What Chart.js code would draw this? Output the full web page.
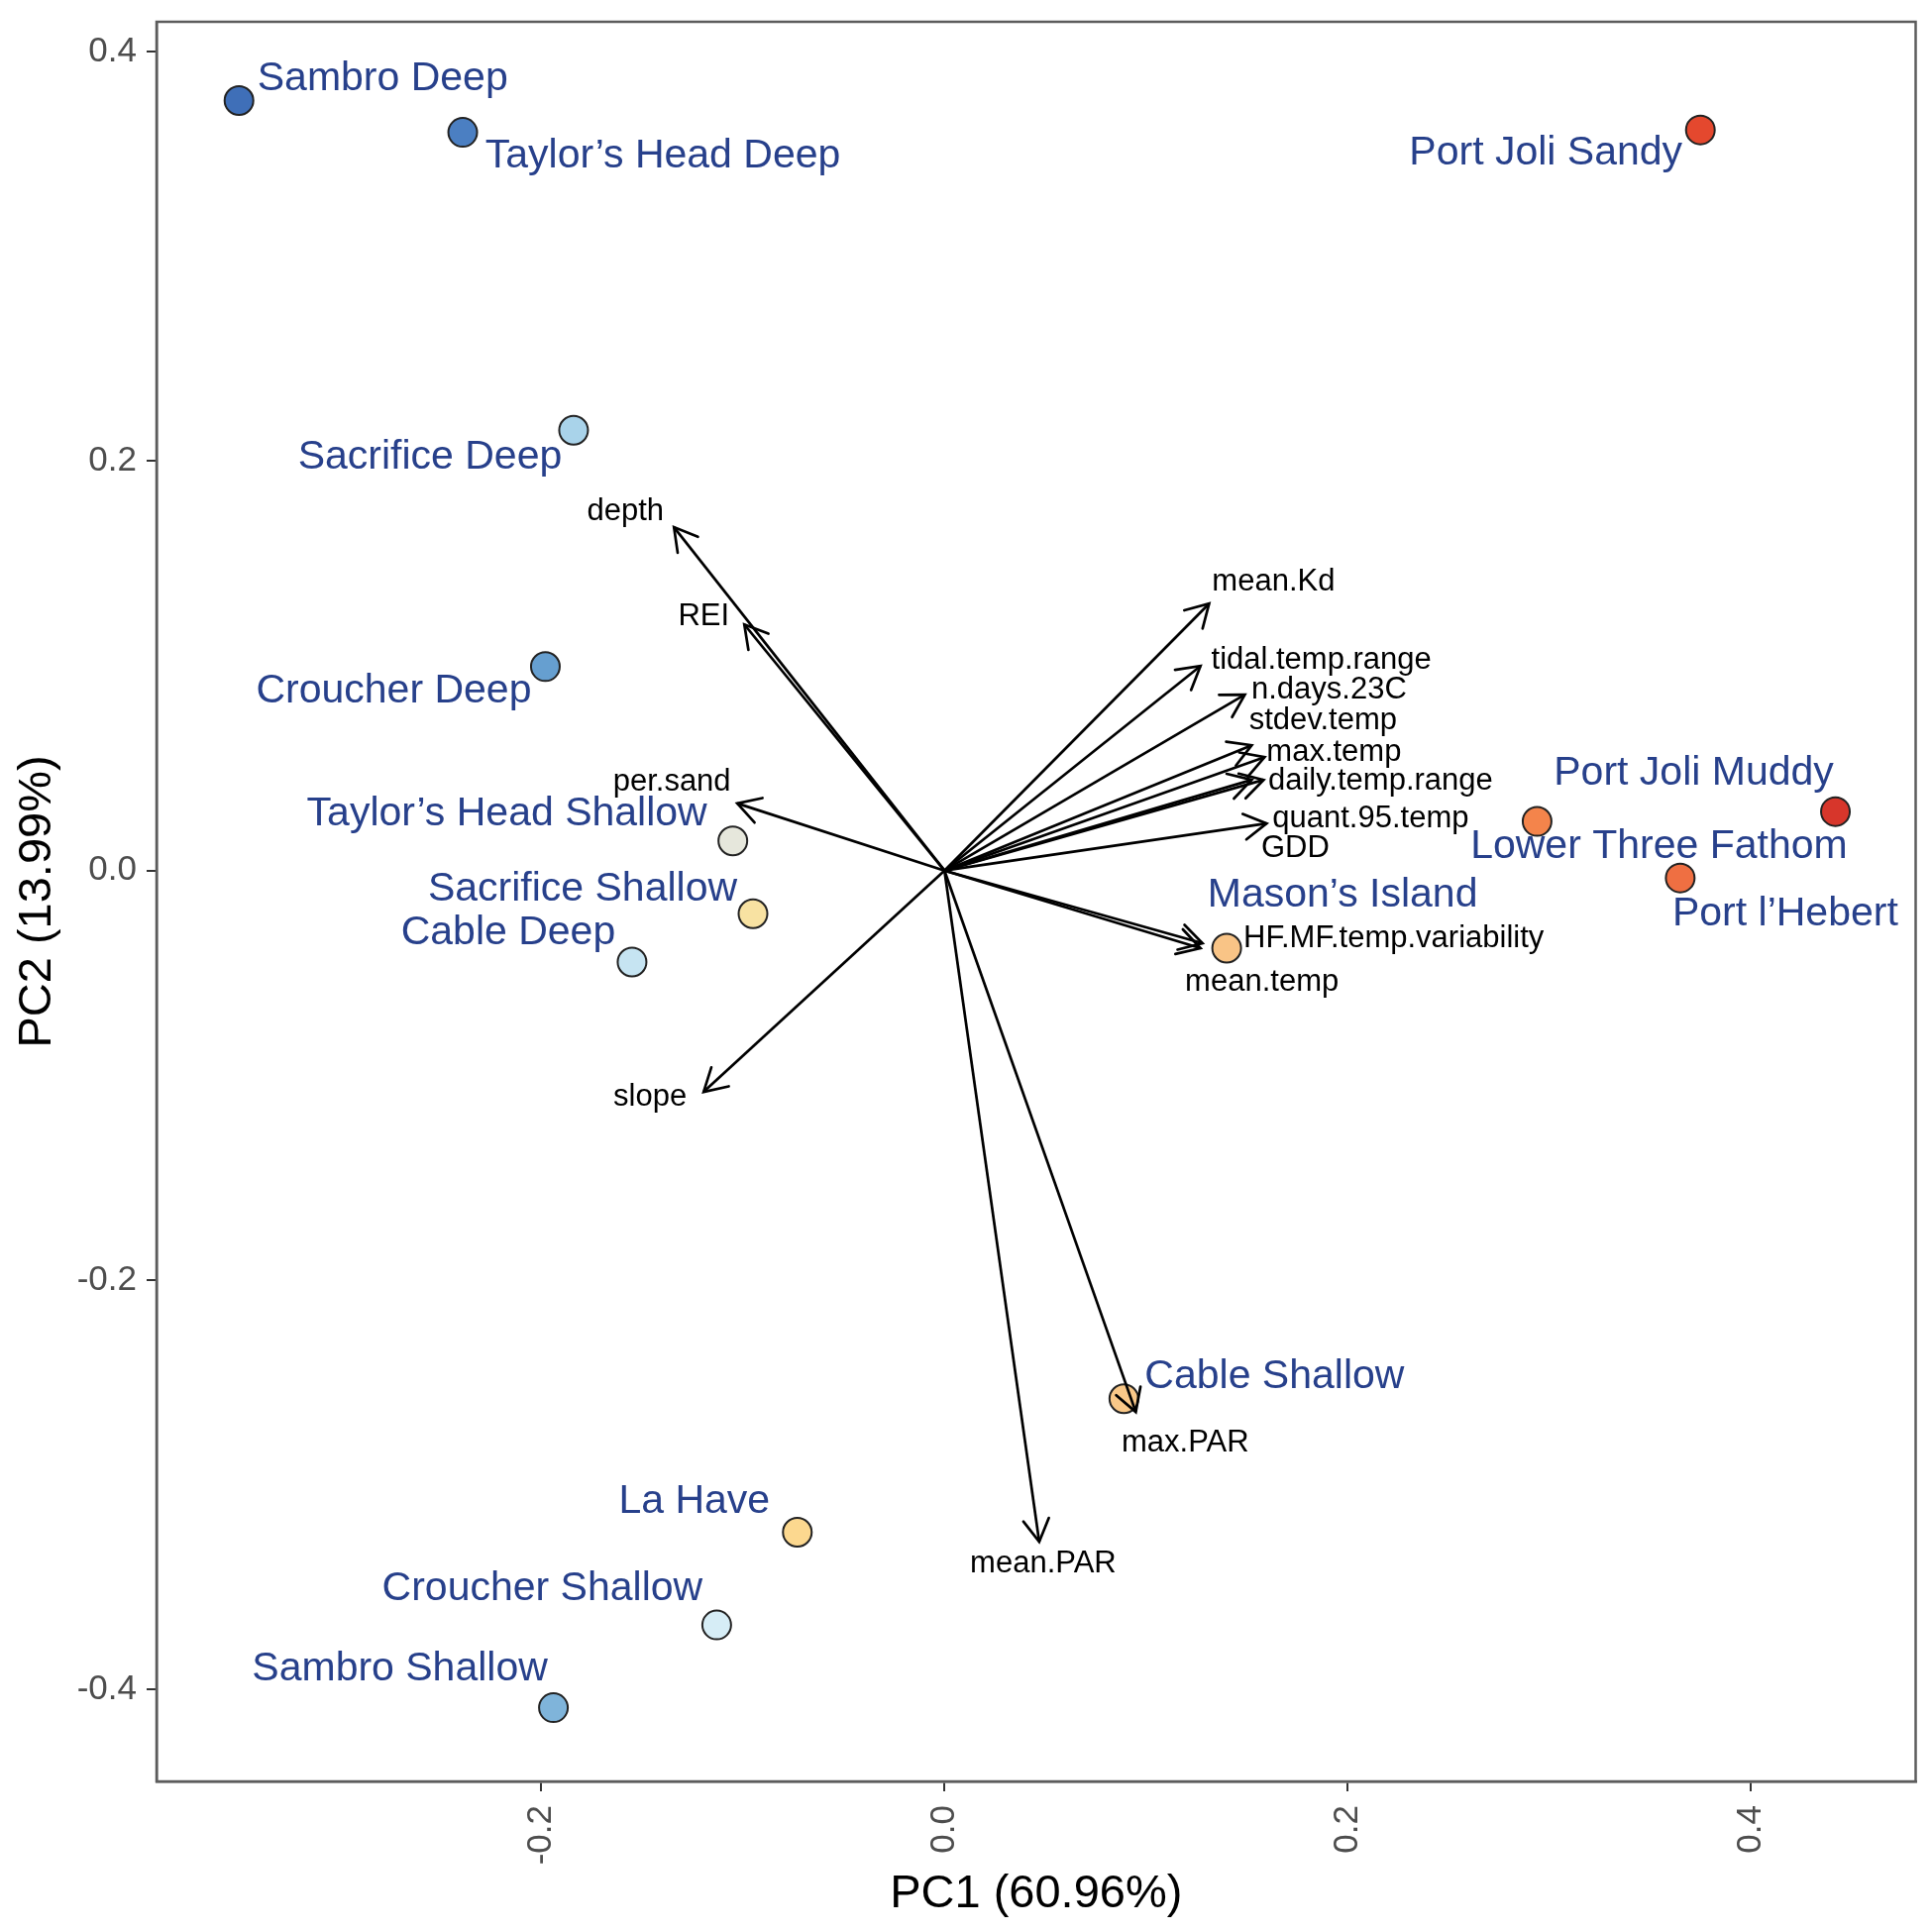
<!DOCTYPE html>
<html>
<head>
<meta charset="utf-8">
<script src="https://cdn.jsdelivr.net/npm/chart.js@4.4.1/dist/chart.umd.min.js"></script>
<style>
  html, body { margin: 0; padding: 0; background: #fff; }
  canvas { display: block; }
</style>
</head>
<body>
<canvas id="pcaChart" width="1950" height="1950"></canvas>
<script>
// site scores
const siteNames = ['Sambro Deep', 'Taylor’s Head Deep', 'Port Joli Sandy', 'Sacrifice Deep', 'Croucher Deep',
    'Taylor’s Head Shallow', 'Sacrifice Shallow', 'Cable Deep', 'Port Joli Muddy', 'Lower Three Fathom',
    'Port l’Hebert', 'Mason’s Island', 'Cable Shallow', 'La Have', 'Croucher Shallow', 'Sambro Shallow'];
const sitePC1 = [-0.350, -0.239, 0.375, -0.184, -0.198, -0.105, -0.095, -0.155, 0.442, 0.294, 0.365, 0.140, 0.089, -0.073, -0.113, -0.194];
const sitePC2 = [0.376, 0.3605, 0.3617, 0.215, 0.0996, 0.0145, -0.0211, -0.0447, 0.0288, 0.024, -0.0036, -0.0379, -0.2579, -0.3231, -0.3684, -0.4088];

// variable loadings (arrows)
const varNames = ['depth', 'REI', 'per.sand', 'slope', 'mean.Kd', 'tidal.temp.range', 'n.days.23C', 'stdev.temp',
    'max.temp', 'daily.temp.range', 'quant.95.temp', 'GDD', 'HF.MF.temp.variability', 'mean.temp', 'max.PAR', 'mean.PAR'];
const loadPC1 = [-0.1342, -0.0993, -0.1028, -0.1195, 0.1313, 0.127, 0.149, 0.1524, 0.1588, 0.1583, 0.1598, 0.1524, 0.128, 0.127, 0.0949, 0.047];
const loadPC2 = [0.1677, 0.1202, 0.0328, -0.1081, 0.1304, 0.0999, 0.0859, 0.0612, 0.0554, 0.0443, 0.023, 0.0443, -0.0355, -0.0379, -0.2644, -0.3278];

const xTicks = [-0.2, 0.0, 0.2, 0.4];
const yTicks = [-0.4, -0.2, 0.0, 0.2, 0.4];

// styling
const siteColors = ['#3f6fb8', '#4b7fc2', '#e4482e', '#a9d3ea', '#669fd0', '#e6e7dc', '#f8e2a2', '#c6e4f2',
    '#d7362b', '#f4844b', '#ef6f42', '#f9c486', '#f9c888', '#fcd88f', '#d6edf6', '#7fb4da'];
const siteLabelOffsets = [[145, -22], [202, 24], [-156, 24], [-145, 27], [-153, 25], [-228, -27], [-172, -25], [-125, -29],
    [-143, -38], [123, 26], [106, 37], [117, -53], [152, -22], [-104, -31], [-176, -36], [-155, -39]];
const varLabelOffsets = [[-49, -16], [-41, -8], [-66, -21], [-54, 5], [65, -22], [122, -6], [85, -5], [72, -25],
    [70, -5], [118, 1], [105, -5], [44, 69], [193, -5], [62, 34], [50, 31], [4, 22]];

const FONT = '"Liberation Sans", Arial, sans-serif';

const arrowSets = varNames.map((name, i) => ({
    type: 'line',
    label: name,
    data: [{ x: 0, y: 0 }, { x: loadPC1[i], y: loadPC2[i] }],
    borderColor: '#000',
    borderWidth: 2.7,
    pointRadius: 0,
    showLine: true,
    order: 0
}));

const overlay = {
    id: 'overlay',
    afterDatasetsDraw(chart) {
        const { ctx, scales: { x, y } } = chart;
        ctx.save();
        // arrow heads
        ctx.strokeStyle = '#000';
        ctx.lineWidth = 2.7;
        ctx.lineCap = 'round';
        const x0 = x.getPixelForValue(0), y0 = y.getPixelForValue(0);
        varNames.forEach((name, i) => {
            const px = x.getPixelForValue(loadPC1[i]);
            const py = y.getPixelForValue(loadPC2[i]);
            const ang = Math.atan2(py - y0, px - x0);
            const len = 26, spread = Math.PI / 6;
            ctx.beginPath();
            ctx.moveTo(px - len * Math.cos(ang - spread), py - len * Math.sin(ang - spread));
            ctx.lineTo(px, py);
            ctx.lineTo(px - len * Math.cos(ang + spread), py - len * Math.sin(ang + spread));
            ctx.stroke();
        });
        // variable labels
        ctx.fillStyle = '#000';
        ctx.font = '31px ' + FONT;
        ctx.textAlign = 'center';
        ctx.textBaseline = 'middle';
        varNames.forEach((name, i) => {
            const px = x.getPixelForValue(loadPC1[i]);
            const py = y.getPixelForValue(loadPC2[i]);
            ctx.fillText(name, px + varLabelOffsets[i][0], py + varLabelOffsets[i][1]);
        });
        // site labels
        ctx.fillStyle = '#27408b';
        ctx.font = '41px ' + FONT;
        siteNames.forEach((name, i) => {
            const px = x.getPixelForValue(sitePC1[i]);
            const py = y.getPixelForValue(sitePC2[i]);
            ctx.fillText(name, px + siteLabelOffsets[i][0], py + siteLabelOffsets[i][1]);
        });
        ctx.restore();
    },
    afterDraw(chart) {
        const { ctx, chartArea: a } = chart;
        ctx.save();
        ctx.strokeStyle = '#5c5c5c';
        ctx.lineWidth = 2.5;
        ctx.strokeRect(a.left, a.top, a.right - a.left, a.bottom - a.top);
        ctx.restore();
    }
};

const ctx = document.getElementById('pcaChart');
new Chart(ctx, {
    type: 'scatter',
    data: {
        datasets: [
            ...arrowSets,
            {
                label: 'sites',
                data: siteNames.map((n, i) => ({ x: sitePC1[i], y: sitePC2[i] })),
                backgroundColor: siteColors,
                borderColor: '#222',
                borderWidth: 2,
                pointRadius: 14.5,
                order: 1
            }
        ]
    },
    options: {
        responsive: false,
        devicePixelRatio: 1,
        animation: false,
        layout: { padding: { left: 0, right: 14, top: 22, bottom: 0 } },
        plugins: {
            legend: { display: false },
            tooltip: { enabled: false }
        },
        scales: {
            x: {
                type: 'linear',
                min: -0.3909,
                max: 0.4818,
                afterFit: (s) => { s.height = 152; s.paddingLeft = 0; s.paddingRight = 0; },
                afterBuildTicks: (s) => { s.ticks = xTicks.map(v => ({ value: v })); },
                grid: { drawOnChartArea: false, drawTicks: true, tickLength: 10, color: '#333', lineWidth: 2 },
                border: { display: true, color: '#5c5c5c', width: 2.5 },
                ticks: {
                    minRotation: 90,
                    maxRotation: 90,
                    padding: 14,
                    color: '#4d4d4d',
                    font: { family: FONT, size: 35 },
                    callback: (v) => v.toFixed(1)
                },
                title: {
                    display: true,
                    text: 'PC1 (60.96%)',
                    color: '#000',
                    font: { family: FONT, size: 47 },
                    padding: { top: 0, bottom: 10 }
                }
            },
            y: {
                type: 'linear',
                min: -0.4448,
                max: 0.4145,
                afterFit: (s) => { s.width = 158; s.paddingTop = 0; s.paddingBottom = 0; },
                afterBuildTicks: (s) => { s.ticks = yTicks.map(v => ({ value: v })); },
                grid: { drawOnChartArea: false, drawTicks: true, tickLength: 10, color: '#333', lineWidth: 2 },
                border: { display: true, color: '#5c5c5c', width: 2.5 },
                ticks: {
                    padding: 10,
                    color: '#4d4d4d',
                    font: { family: FONT, size: 35 },
                    callback: (v) => v.toFixed(1)
                },
                title: {
                    display: true,
                    text: 'PC2 (13.99%)',
                    color: '#000',
                    font: { family: FONT, size: 47 },
                    padding: { top: 10, bottom: 0 }
                }
            }
        }
    },
    plugins: [overlay]
});
</script>
</body>
</html>
